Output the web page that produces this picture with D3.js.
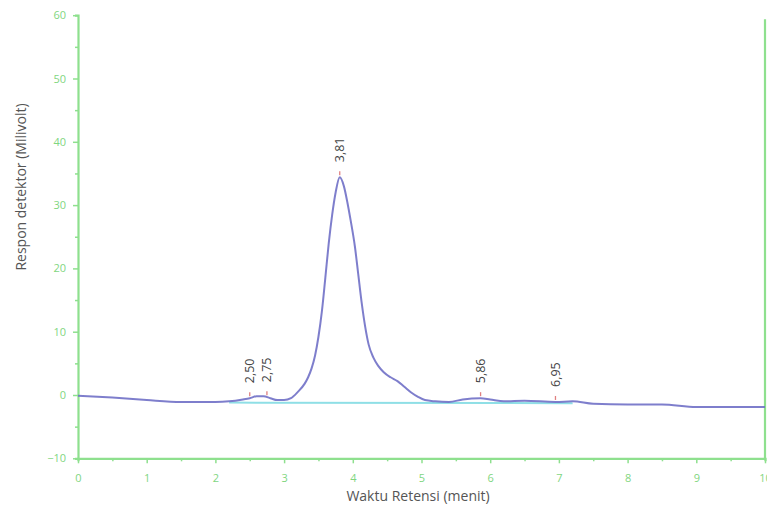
<!DOCTYPE html>
<html>
<head>
<meta charset="utf-8">
<script src="https://cdn.jsdelivr.net/npm/d3@7"></script>
<style>
  html, body { margin: 0; padding: 0; background: #fff; }
  svg { display: block; }
</style>
</head>
<body>
<svg id="chart" width="767" height="514"></svg>
<script>
// ---- Data ----
const timeMin = [0, 0.5, 1, 1.5, 2, 2.2, 2.4, 2.5, 2.6, 2.7, 2.8, 2.9, 3.0, 3.1, 3.2, 3.3, 3.35, 3.4, 3.45, 3.5, 3.55, 3.6, 3.65, 3.7, 3.75, 3.81, 3.87, 3.92, 3.97, 4.03, 4.08, 4.13, 4.18, 4.23, 4.3, 4.37, 4.45, 4.55, 4.65, 4.75, 4.85, 4.95, 5.05, 5.2, 5.4, 5.6, 5.86, 6.0, 6.2, 6.5, 6.95, 7.2, 7.5, 8.0, 8.5, 9.0, 9.5, 10.0];
const responseMv = [-0.1, -0.4, -0.8, -1.1, -1.1, -1.0, -0.7, -0.5, -0.2, -0.2, -0.5, -0.8, -0.8, -0.5, 0.5, 1.8, 2.8, 4.2, 6.2, 9.2, 13.2, 18.5, 24.0, 28.5, 32.0, 34.4, 33.0, 30.5, 27.5, 23.5, 19.0, 14.5, 10.8, 8.0, 5.9, 4.6, 3.6, 2.8, 2.2, 1.3, 0.4, -0.3, -0.8, -1.0, -1.1, -0.7, -0.5, -0.7, -1.0, -0.9, -1.1, -1.0, -1.4, -1.5, -1.5, -1.9, -1.9, -1.9];
const peakTimes = [2.50, 2.75, 3.81, 5.86, 6.95];
const peakLabels = ["2,50", "2,75", "3,81", "5,86", "6,95"];
const baselineTimes = [2.2, 7.2];
const baselineValues = [-1.2, -1.3];
const xTicks = [0, 1, 2, 3, 4, 5, 6, 7, 8, 9, 10];
const yTicks = [-10, 0, 10, 20, 30, 40, 50, 60];
const xTitle = "Waktu Retensi (menit)";
const yTitle = "Respon detektor (Milivolt)";

// ---- Drawing ----
const svg = d3.select("#chart");
const axisColor = "#8ee08e";
const x = d3.scaleLinear().domain([0, 10]).range([78, 765]);
const y = d3.scaleLinear().domain([-10, 60]).range([458.3, 15.2]);

const gx = svg.append("g").attr("transform", `translate(0,${y(-10)})`);
gx.call(d3.axisBottom(x).tickValues(d3.range(0, 10.01, 0.5)).tickSize(3).tickFormat(""));
gx.call(g => g.selectAll(".tick").filter(d => Number.isInteger(d)).select("line").attr("y2", 5));
gx.append("g").call(d3.axisBottom(x).tickValues(xTicks).tickSize(0).tickPadding(16).tickFormat(d3.format("d")))
  .call(g => g.select(".domain").remove());

const gy = svg.append("g").attr("transform", `translate(${x(0)},0)`);
gy.call(d3.axisLeft(y).tickValues(d3.range(-10, 60.01, 5)).tickSize(3).tickFormat(""));
gy.call(g => g.selectAll(".tick").filter(d => d % 10 === 0).select("line").attr("x2", -5));
gy.append("g").call(d3.axisLeft(y).tickValues(yTicks).tickSize(0).tickPadding(12).tickFormat(d3.format("d")))
  .call(g => g.select(".domain").remove());

svg.selectAll(".domain").attr("stroke", axisColor).attr("stroke-width", 2.2);
svg.selectAll(".tick line").attr("stroke", axisColor).attr("stroke-width", 1.5);
svg.selectAll(".tick text").attr("fill", "#7fd67f").attr("font-family", "Open Sans, sans-serif").attr("font-size", 11);

// right border
svg.append("line").attr("x1", x(10)).attr("x2", x(10)).attr("y1", y(60) + 4).attr("y2", y(-10))
  .attr("stroke", axisColor).attr("stroke-width", 2.2);

// integration baseline
svg.append("path")
  .datum(baselineTimes.map((t, i) => [t, baselineValues[i]]))
  .attr("d", d3.line().x(d => x(d[0])).y(d => y(d[1])))
  .attr("stroke", "#8fdfe6").attr("stroke-width", 2).attr("fill", "none");

// trace
const pts = timeMin.map((t, i) => [t, responseMv[i]]);
svg.append("path")
  .datum(pts)
  .attr("d", d3.line().x(d => x(d[0])).y(d => y(d[1])).curve(d3.curveMonotoneX))
  .attr("stroke", "#7070c6").attr("stroke-width", 2).attr("fill", "none").attr("opacity", 0.9);

// value at time by interpolation of read points
function valAt(t) {
  const i = d3.bisectLeft(timeMin, t);
  if (i <= 0) return responseMv[0];
  if (i >= timeMin.length) return responseMv[responseMv.length - 1];
  const t0 = timeMin[i - 1], t1 = timeMin[i];
  const f = (t - t0) / (t1 - t0);
  return responseMv[i - 1] + f * (responseMv[i] - responseMv[i - 1]);
}

// peak markers and labels
peakTimes.forEach((t, i) => {
  const py = y(valAt(t));
  svg.append("line").attr("x1", x(t)).attr("x2", x(t)).attr("y1", py - 2).attr("y2", py - 6)
    .attr("stroke", "#e08080").attr("stroke-width", 1.3);
  svg.append("text")
    .attr("transform", `translate(${x(t)},${py - 15}) rotate(-90)`)
    .attr("dy", "0.35em")
    .attr("text-anchor", "start")
    .attr("font-family", "Open Sans, sans-serif").attr("font-size", 12.5)
    .attr("fill", "#444")
    .text(peakLabels[i]);
});

// titles
svg.append("text").attr("x", 418).attr("y", 501).attr("text-anchor", "middle")
  .attr("font-family", "Open Sans, sans-serif").attr("font-size", 14).attr("fill", "#555").text(xTitle);
svg.append("text").attr("transform", "translate(21,187) rotate(-90)").attr("dy", "0.35em").attr("text-anchor", "middle")
  .attr("font-family", "Open Sans, sans-serif").attr("font-size", 14).attr("fill", "#555").text(yTitle);
</script>
</body>
</html>
